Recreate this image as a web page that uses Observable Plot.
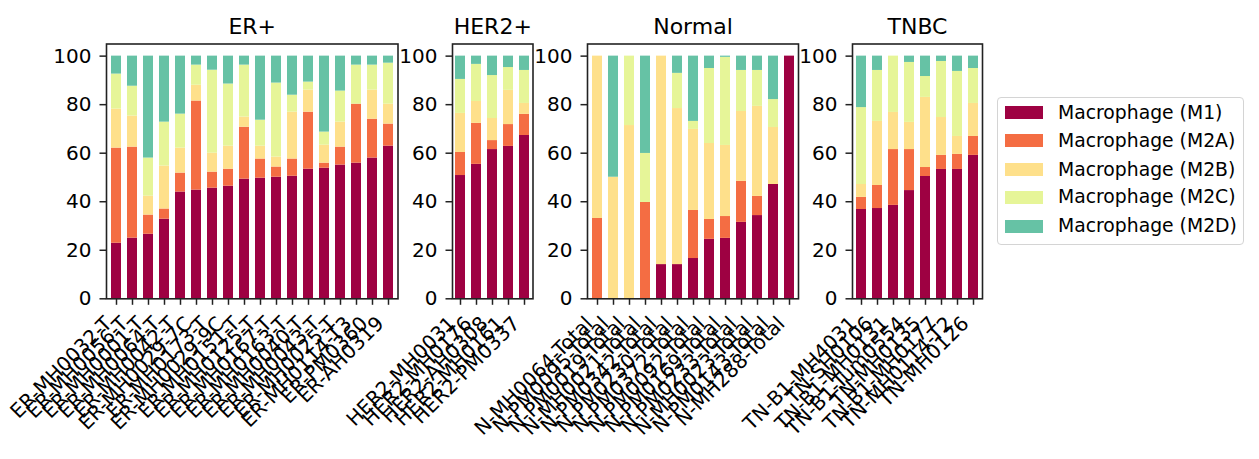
<!DOCTYPE html>
<html>
<head>
<meta charset="utf-8">
<script src="https://cdn.jsdelivr.net/npm/d3@7"></script>
<script src="https://cdn.jsdelivr.net/npm/@observablehq/plot@0.6"></script>
<style>
  html, body { margin: 0; padding: 0; background: white; }
  #wrap { position: relative; width: 1259px; height: 459px; overflow: hidden; font-family: "DejaVu Sans", sans-serif; }
  #wrap svg { position: absolute; top: 0; max-width: none !important; }
  .leg { position: absolute; left: 997px; top: 97px; width: 247px; height: 148px; border: 1.5px solid #d4d4d4; border-radius: 4px; box-sizing: border-box; background: white; }
  .sw { position: absolute; left: 7px; width: 38px; height: 13px; }
  .lt { position: absolute; left: 60px; font-size: 18.8px; line-height: 20px; color: #000; white-space: nowrap; }
</style>
</head>
<body>
<div id="wrap"></div>
<script>
const types = ["Macrophage (M1)", "Macrophage (M2A)", "Macrophage (M2B)", "Macrophage (M2C)", "Macrophage (M2D)"];
const colors = ["#9e0142", "#f46d43", "#fee08b", "#e6f598", "#66c2a5"];
const yTicks = [0, 20, 40, 60, 80, 100];

// ER+
const erSamples = ["ER-MH0032-T", "ER-MH0056-T", "ER-MH0001-T", "ER-MH0064-T", "ER-MH0042-T", "ER-MH0029-7C",
  "ER-MH0173-T", "ER-MH0029-9C", "ER-MH0151-T", "ER-MH0125-T", "ER-MH0167-T", "ER-MH0163-T",
  "ER-MH0040-T", "ER-MH0043-T", "ER-MH0025-T", "ER-MH0114-T3", "ER-PM0360", "ER-AH0319"];
const erM1  = [22.9, 25.0, 26.6, 32.8, 44.0, 44.8, 45.6, 46.4, 49.3, 49.7, 50.1, 50.5, 53.4, 53.8, 55.1, 55.9, 58.0, 62.9];
const erM2A = [39.2, 37.5, 7.9, 4.2, 7.8, 36.7, 6.6, 7.0, 21.4, 7.9, 4.2, 7.1, 23.5, 2.1, 7.4, 24.3, 16.0, 9.1];
const erM2B = [16.1, 12.8, 7.8, 17.7, 10.3, 6.5, 7.8, 9.5, 4.2, 5.3, 4.1, 19.3, 9.1, 7.4, 10.3, 0, 12.0, 8.2];
const erM2C = [14.4, 12.3, 15.7, 18.1, 14.0, 8.3, 34.2, 25.6, 21.4, 10.7, 30.5, 7.0, 3.3, 5.4, 12.8, 16.1, 10.3, 16.9];
const erM2D = [7.4, 12.4, 42.0, 27.2, 23.9, 3.7, 5.8, 11.5, 3.7, 26.4, 11.1, 16.1, 10.7, 31.3, 14.4, 3.7, 3.7, 2.9];

// HER2+
const herSamples = ["HER2-MH0031", "HER2-MH0176", "HER2-AH0308", "HER2-MH0161", "HER2-PM0337"];
const herM1  = [50.8, 55.4, 61.5, 62.8, 67.3];
const herM2A = [9.5, 16.9, 3.7, 9.0, 8.7];
const herM2B = [16.1, 9.0, 9.1, 14.1, 4.5];
const herM2C = [14.0, 15.3, 17.7, 9.4, 13.6];
const herM2D = [9.6, 3.4, 8.0, 4.7, 5.9];

// Normal
const nSamples = ["N-MH0064-Total", "N-PM0095-Total", "N-PM0019-Total", "N-MH0021-Total", "N-PM0342-Total",
  "N-PM0230-Total", "N-PM0372-Total", "N-PM0092-Total", "N-PM0169-Total", "N-PM0233-Total",
  "N-MH0023-Total", "N-PM0143-Total", "N-MH288-Total"];
const nM1  = [0, 0, 0, 0, 14.1, 14.1, 16.6, 24.5, 24.9, 31.5, 34.3, 47.1, 100];
const nM2A = [33.1, 0, 0, 39.7, 0, 0, 19.8, 8.2, 9.0, 16.9, 7.9, 0, 0];
const nM2B = [66.9, 50.1, 71.4, 0, 85.9, 64.3, 33.4, 31.3, 29.3, 28.8, 37.1, 23.5, 0];
const nM2C = [0, 0, 28.6, 20.2, 0, 14.5, 3.3, 30.9, 36.3, 16.9, 14.8, 11.5, 0];
const nM2D = [0, 49.9, 0, 40.1, 0, 7.1, 26.9, 5.1, 0.5, 5.9, 5.9, 17.9, 0];

// TNBC
const tnSamples = ["TN-B1-MH4031", "TN-SH0106", "TN-B1-MH0131", "TN-B1-Tum0554", "TN-MH0135",
  "TN-B1-MH0177", "TN-MH0114-T2", "TN-MH0126"];
const tnM1  = [36.8, 37.2, 38.5, 44.6, 50.4, 53.3, 53.3, 59.1];
const tnM2A = [5.0, 9.5, 23.0, 16.9, 3.7, 5.8, 6.2, 7.8];
const tnM2B = [5.3, 26.4, 15.3, 11.2, 28.9, 15.6, 7.4, 13.6];
const tnM2C = [31.7, 21.0, 23.2, 24.7, 8.6, 23.1, 26.8, 14.4];
const tnM2D = [21.2, 5.9, 0, 2.6, 8.4, 2.2, 6.3, 5.1];

const panels = [
  {title: "ER+", samples: erSamples, series: [erM1, erM2A, erM2B, erM2C, erM2D], left: 106, right: 397.5},
  {title: "HER2+", samples: herSamples, series: [herM1, herM2A, herM2B, herM2C, herM2D], left: 451.5, right: 532},
  {title: "Normal", samples: nSamples, series: [nM1, nM2A, nM2B, nM2C, nM2D], left: 587, right: 798},
  {title: "TNBC", samples: tnSamples, series: [tnM1, tnM2A, tnM2B, tnM2C, tnM2D], left: 852, right: 982}
];

const wrap = document.getElementById("wrap");
const ml = 80, mr = 10;
for (const p of panels) {
  const rows = [];
  p.samples.forEach((s, i) => types.forEach((t, j) => rows.push({sample: s, type: t, value: p.series[j][i]})));
  const svg = Plot.plot({
    width: (p.right - p.left) + ml + mr,
    height: 459,
    marginLeft: ml, marginRight: mr, marginTop: 43.5, marginBottom: 160.7,
    style: {background: "transparent", overflow: "visible", fontFamily: "DejaVu Sans", fontSize: "20px", color: "#000"},
    x: {domain: p.samples, paddingInner: 0.4, paddingOuter: 0.2, label: null, axis: null},
    y: {domain: [0, 105], label: null, axis: null},
    color: {domain: types, range: colors},
    marks: [
      Plot.barY(rows, Plot.stackY({x: "sample", y: "value", fill: "type"})),
      Plot.axisY({ticks: yTicks, tickSize: 6.5, tickPadding: 8.5, strokeWidth: 1.5, stroke: "#222", fontSize: 20, label: null}),
      Plot.axisX({tickSize: 6.5, text: null, stroke: "#222", strokeWidth: 1.5, label: null}),
      Plot.text(p.samples, {x: d => d, frameAnchor: "bottom", rotate: -45, textAnchor: "end", lineAnchor: "middle", dx: -8, dy: 21.5, fontSize: 20, fill: "#000"}),
      Plot.frame({stroke: "#222", strokeWidth: 1.6}),
      Plot.text([p.title], {frameAnchor: "top", dy: -10, lineAnchor: "bottom", fontSize: 22, fill: "#000"})
    ]
  });
  svg.style.left = (p.left - ml) + "px";
  wrap.appendChild(svg);
}

const leg = document.createElement("div");
leg.className = "leg";
const rowY = [16.3, 44, 73, 100.7, 129.7];
types.forEach((t, i) => {
  const sw = document.createElement("div");
  sw.className = "sw";
  sw.style.top = (rowY[i] - 6.5 - 1.5) + "px";
  sw.style.background = colors[i];
  leg.appendChild(sw);
  const tx = document.createElement("div");
  tx.className = "lt";
  tx.style.top = (rowY[i] - 10 - 1.5) + "px";
  tx.textContent = t;
  leg.appendChild(tx);
});
wrap.appendChild(leg);
</script>
</body>
</html>
